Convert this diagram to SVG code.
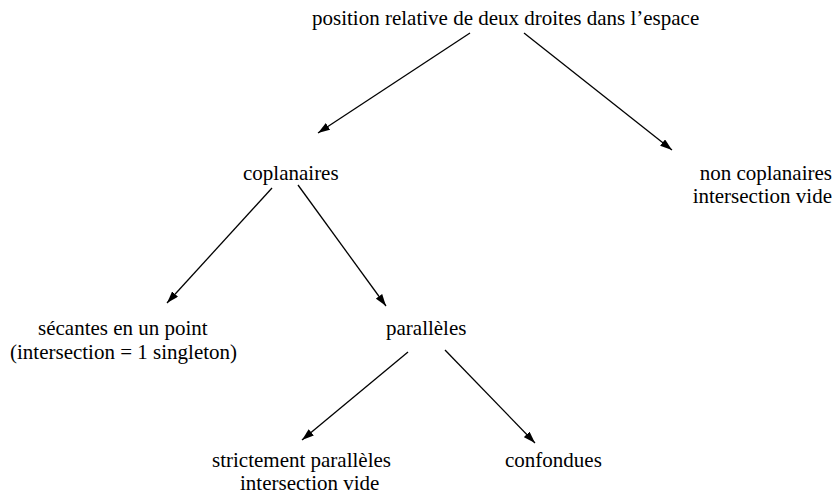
<svg xmlns="http://www.w3.org/2000/svg" width="836" height="496" viewBox="0 0 836 496">
<defs>
<marker id="ah" viewBox="0 0 12 8" refX="12" refY="4" markerWidth="12" markerHeight="8" markerUnits="userSpaceOnUse" orient="auto">
<path d="M0,0 L12,4 L0,8 z" fill="#000"/>
</marker>
</defs>
<rect width="836" height="496" fill="#fff"/>
<g id="n-root"><text x="312" y="25" font-family="Liberation Serif" font-size="21" style="font-family:'Liberation Serif',serif !important">position relative de deux droites dans l’espace</text></g>
<g id="n-coplanaires"><text x="243" y="180" font-family="Liberation Serif" font-size="21" style="font-family:'Liberation Serif',serif !important">coplanaires</text></g>
<g id="n-noncoplanaires"><text x="832" y="180" text-anchor="end" font-family="Liberation Serif" font-size="21" style="font-family:'Liberation Serif',serif !important">non coplanaires</text><text x="832" y="203" text-anchor="end" font-family="Liberation Serif" font-size="21" style="font-family:'Liberation Serif',serif !important">intersection vide</text></g>
<g id="n-secantes"><text x="38" y="335" font-family="Liberation Serif" font-size="21" style="font-family:'Liberation Serif',serif !important">sécantes en un point</text><text x="10" y="359" font-family="Liberation Serif" font-size="21" style="font-family:'Liberation Serif',serif !important">(intersection = 1 singleton)</text></g>
<g id="n-paralleles"><text x="386" y="335" font-family="Liberation Serif" font-size="21" style="font-family:'Liberation Serif',serif !important">parallèles</text></g>
<g id="n-strictement"><text x="212" y="467" font-family="Liberation Serif" font-size="21" style="font-family:'Liberation Serif',serif !important">strictement parallèles</text><text x="240" y="490" font-family="Liberation Serif" font-size="21" style="font-family:'Liberation Serif',serif !important">intersection vide</text></g>
<g id="n-confondues"><text x="505" y="467" font-family="Liberation Serif" font-size="21" style="font-family:'Liberation Serif',serif !important">confondues</text></g>
<g id="connectors" stroke="#000" stroke-width="1.3" marker-end="url(#ah)">
<line x1="470" y1="33" x2="318" y2="133"/>
<line x1="524" y1="33" x2="672" y2="150"/>
<line x1="272" y1="188" x2="167" y2="303"/>
<line x1="298" y1="185" x2="386" y2="306"/>
<line x1="408" y1="352" x2="302" y2="440"/>
<line x1="445" y1="350" x2="535" y2="443"/>
</g>
</svg>
